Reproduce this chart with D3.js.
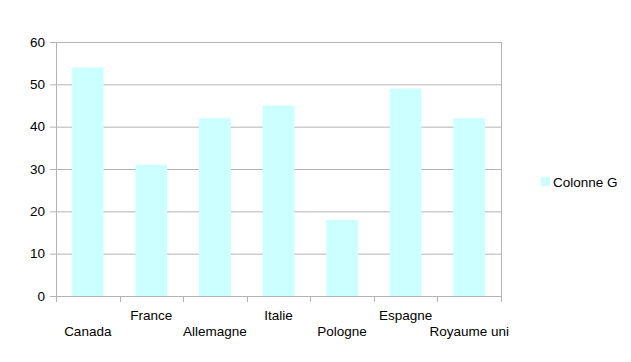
<!DOCTYPE html>
<html><head><meta charset="utf-8">
<script src="https://cdn.jsdelivr.net/npm/d3@7"></script>
<style>body{margin:0;background:#fff}svg{display:block}text{font-family:"Liberation Sans",Arial,sans-serif;font-size:13.5px;fill:#000}</style>
</head><body>
<svg id="c" width="631" height="362"></svg>
<script>
const categories = ["Canada","France","Allemagne","Italie","Pologne","Espagne","Royaume uni"];
const values = [54,31,42,45,18,49,42];
const yTicks = [0,10,20,30,40,50,60];
const seriesName = "Colonne G";

const svg = d3.select("#c");
const L=56,R=501,T=42,B=296;
const x = d3.scaleBand().domain(categories).range([L,R]).paddingInner(0).paddingOuter(0);
const y = d3.scaleLinear().domain([0,60]).range([B,T]);
const grid="#b3b3b3";

svg.append("g").selectAll("line").data(yTicks).join("line")
  .attr("x1",L-6).attr("x2",R).attr("y1",d=>y(d)+0.5).attr("y2",d=>y(d)+0.5)
  .attr("stroke",grid).attr("stroke-width",1);
svg.append("g").selectAll("text").data(yTicks).join("text")
  .attr("x",45).attr("y",d=>y(d)).attr("dy","0.35em").attr("text-anchor","end").text(d=>d);
const bw = x.bandwidth()*0.5;
svg.append("g").selectAll("rect").data(values).join("rect")
  .attr("x",(d,i)=>x(categories[i])+(x.bandwidth()-bw)/2)
  .attr("width",bw)
  .attr("y",d=>y(d)).attr("height",d=>B-y(d))
  .attr("fill","#ccffff");
svg.append("line").attr("x1",L+0.5).attr("x2",L+0.5).attr("y1",T).attr("y2",B+6).attr("stroke",grid);
svg.append("line").attr("x1",R+0.5).attr("x2",R+0.5).attr("y1",T).attr("y2",B+6).attr("stroke",grid);
const bounds = categories.map(c=>x(c)).concat([R]);
svg.append("g").selectAll("line").data(bounds).join("line")
  .attr("x1",d=>Math.round(d)+0.5).attr("x2",d=>Math.round(d)+0.5).attr("y1",B).attr("y2",B+6).attr("stroke",grid);
svg.append("g").selectAll("text").data(categories).join("text")
  .attr("x",d=>x(d)+x.bandwidth()/2).attr("y",(d,i)=>i%2===0?336:320)
  .attr("text-anchor","middle").text(d=>d);
svg.append("rect").attr("x",541).attr("y",177).attr("width",9).attr("height",9).attr("fill","#ccffff");
svg.append("text").attr("x",553).attr("y",182).attr("dy","0.35em").text(seriesName);
</script>
</body></html>
